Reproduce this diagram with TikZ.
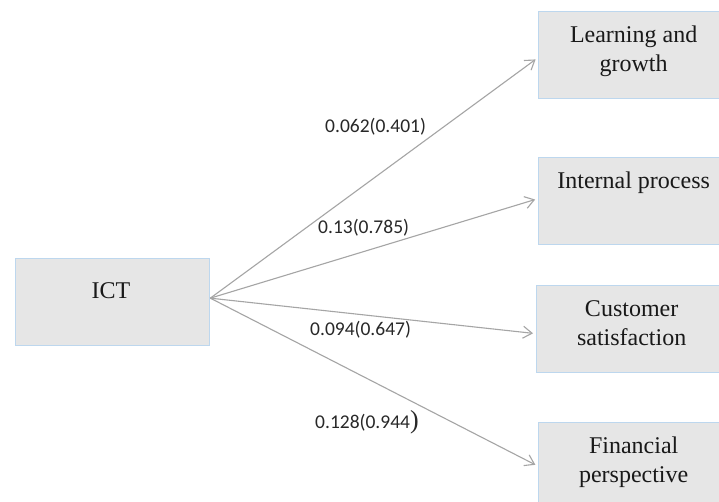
\documentclass[tikz,border=0pt]{standalone}
\usepackage{fontspec}
\setmainfont{Liberation Serif}
\newfontfamily\coeffont{Carlito}
\usetikzlibrary{arrows.meta}
\definecolor{boxfill}{RGB}{230,230,230}
\definecolor{boxline}{RGB}{189,215,238}
\definecolor{arrowgray}{RGB}{165,165,165}
\definecolor{coeftext}{RGB}{40,40,40}
\begin{document}
\begin{tikzpicture}[x=1pt,y=-1pt,
  box/.style={draw=boxline, fill=boxfill, line width=1.3pt, rectangle, inner sep=0pt,
    minimum width=190pt, minimum height=87pt, anchor=north west},
  boxtext/.style={font=\fontsize{24}{29}\selectfont, text=black!90, align=center,
    inner sep=0pt, anchor=north},
  link/.style={draw=arrowgray, line width=1.1pt,
    -{Straight Barb[length=9pt,width=12pt]}, shorten >=3pt},
  coef/.style={font=\coeffont\fontsize{19.5}{21}\selectfont, text=coeftext,
    inner sep=0pt, anchor=base west}
]
\clip (0,0) rectangle (719,501);
\fill[white] (0,0) rectangle (719,501);

% source construct
\node[box, minimum width=194pt] (ict) at (15,258) {};
\node[boxtext, anchor=base] (ictt) at (111,298) {ICT};

% balanced scorecard perspectives
\node[box] (lg) at (538,11) {};
\node[box] (ip) at (538,157) {};
\node[box] (cs) at (536,285) {};
\node[box] (fp) at (538,422) {};

\node[boxtext] (lgt) at ([yshift=-9pt]lg.north) {\rule{0pt}{22pt}Learning and\\growth};
\node[boxtext] (ipt) at ([yshift=-9pt]ip.north) {\rule{0pt}{22pt}Internal process};
\node[boxtext] (cst) at ([yshift=-9pt]cs.north) {\rule{0pt}{22pt}Customer\\satisfaction};
\node[boxtext] (fpt) at ([yshift=-9pt]fp.north) {\rule{0pt}{22pt}Financial\\perspective};

% paths from ICT
\coordinate (src) at ([yshift=4pt]ict.east);
\draw[link] (src) -- ([yshift=-2.5pt]lg.west);
\draw[link] (src) -- ([yshift=2.5pt]ip.west);
\draw[link] (src) -- ([yshift=-4.5pt]cs.west);
\draw[link] (src) -- (fp.west);

% path coefficients
\node[coef] (c1) at (325,132) {0.062(0.401)};
\node[coef] (c2) at (318,233) {0.13(0.785)};
\node[coef] (c3) at (310,335) {0.094(0.647)};
\node[coef] (c4) at (315,428) {0.128(0.944{\rmfamily\fontsize{26}{26}\selectfont)}};
\end{tikzpicture}
\end{document}
